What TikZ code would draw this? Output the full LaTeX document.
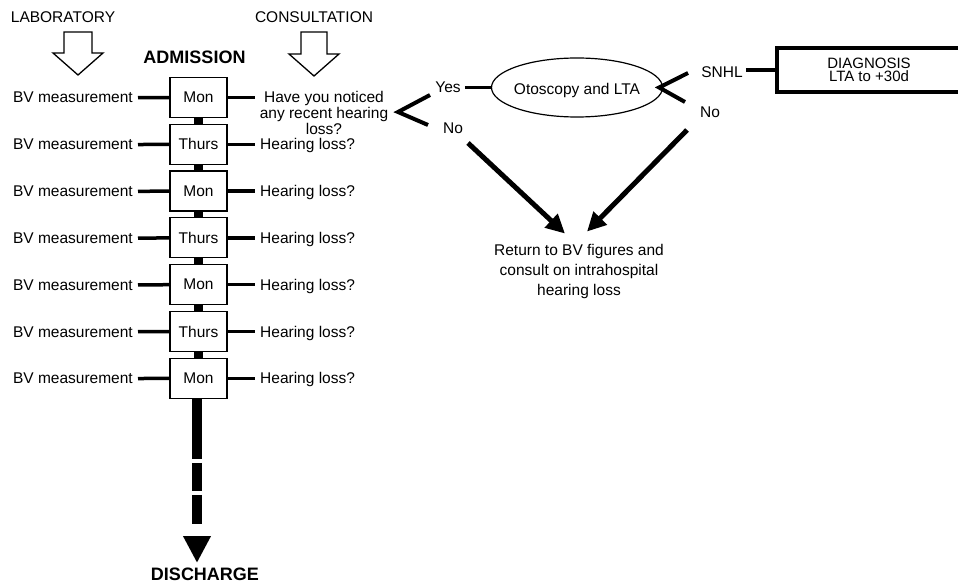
\documentclass[tikz,border=0pt]{standalone}
\usepackage{fontspec}
\setmainfont{Liberation Sans}
\usetikzlibrary{arrows.meta,shapes.geometric,calc}
\begin{document}
\begin{tikzpicture}[x=1pt,y=-1pt,
  txt/.style={inner sep=0pt, font=\fontsize{15.5}{15}\selectfont},
  boldtxt/.style={inner sep=0pt, font=\fontsize{18}{20}\selectfont\bfseries},
  day/.style={draw, line width=1.2pt, minimum width=57pt, minimum height=40pt, inner sep=0pt, font=\fontsize{15.5}{15}\selectfont},
  conn/.style={line width=3.5pt},
  spine/.style={line width=9.5pt},
  hollow/.style={draw, line width=1.3pt, fill=white, line join=miter},
  fork/.style={line width=4pt, line join=miter},
  bigarrow/.style={line width=5pt, -{Triangle[length=19pt,width=18pt]}}]
\useasboundingbox (0,0) rectangle (958,585);

% headers
\node[txt] (lab) at (63,17) {LABORATORY};
\node[txt] (cons) at (314,17) {CONSULTATION};
\draw[hollow] (64,32) -- (92,32) -- (92,53) -- (103,53) -- (78,75) -- (53,53) -- (64,53) -- cycle;
\draw[hollow] (301,32) -- (327,32) -- (327,54) -- (339,54) -- (314,76) -- (289,54) -- (301,54) -- cycle;
\node[boldtxt] (adm) at (194.5,57) {ADMISSION};

% day boxes and rows
\foreach \i/\d/\y in {1/Mon/97.5, 2/Thurs/144.3, 3/Mon/191.1, 4/Thurs/237.9, 5/Mon/284.7, 6/Thurs/331.5, 7/Mon/378.3} {
  \node[day] (d\i) at (198.5,\y) {\d};
  \node[txt, anchor=base east] (bv\i) at (133,\y+5.5) {BV measurement};
  \draw[conn] ([xshift=5pt]bv\i.east) -- (d\i.west);
}
\foreach \i/\y in {2/144.3, 3/191.1, 4/237.9, 5/284.7, 6/331.5, 7/378.3} {
  \node[txt, anchor=base west] (h\i) at (260,\y+5.5) {Hearing loss?};
  \draw[conn] (d\i.east) -- ($(d\i.east -| h\i.west)+(-5,0)$);
}
\foreach \a/\b in {1/2, 2/3, 3/4, 4/5, 5/6, 6/7} {
  \draw[spine] (d\a.south) -- (d\b.north);
}

% discharge
\node[boldtxt] (dis) at (205,574) {DISCHARGE};
\coordinate (dtip) at (197,563);
\draw[spine, dash pattern=on 60pt off 4pt on 28pt off 4pt on 29pt off 20pt,
      -{Triangle[length=27pt,width=26pt]}] (d7.south -| dtip) -- (dtip);

% first consultation question
\node[inner sep=0pt, align=center, font=\fontsize{15.5}{16}\selectfont] (q) at (324,113) {Have you noticed\\any recent hearing\\loss?};
\draw[conn] (d1.east) -- ($(d1.east -| q.west)+(-5,0)$);

\coordinate (f1v) at (398,112);
\coordinate (f1u) at (430,95);
\coordinate (f1l) at (428,125);
\draw[fork] (f1u) -- (f1v) -- (f1l);
\node[txt] (yes) at (448,87) {Yes};
\node[txt] (noL) at (453,128) {No};

% otoscopy
\node[draw, ellipse, line width=1.2pt, minimum width=171pt, minimum height=59pt, inner sep=0pt] (oto) at (577,87.5) {};
\node[txt, text depth=0pt] (otot) at (577,88.5) {Otoscopy and LTA};
\draw[conn] ([xshift=4pt]yes.east |- oto.west) -- (oto.west);

\coordinate (f2v) at ([xshift=-4pt]oto.east);
\coordinate (f2u) at (688,73);
\coordinate (f2l) at (685,102);
\draw[fork] (f2u) -- (f2v) -- (f2l);
\node[txt] (snhl) at (722,72) {SNHL};
\node[txt] (noR) at (710,112) {No};

% diagnosis
\node[draw, line width=4pt, minimum width=184pt, minimum height=44pt, inner sep=0pt,
      align=center, font=\fontsize{15}{13.5}\selectfont] (diag) at (869,70) {DIAGNOSIS\\LTA to +30d};
\draw[conn] ([xshift=3pt]snhl.east |- diag.west) -- (diag.west);

% return
\node[inner sep=0pt, align=center, font=\fontsize{15.5}{20}\selectfont] (ret) at (579,271) {Return to BV figures and\\consult on intrahospital\\hearing loss};
\coordinate (a1s) at (468,143);
\coordinate (a2s) at (687,130);
\draw[bigarrow] (a1s) -- ([shift={(-14,-10)}]ret.north);
\draw[bigarrow] (a2s) -- ([shift={(8,-12)}]ret.north);
\end{tikzpicture}
\end{document}
